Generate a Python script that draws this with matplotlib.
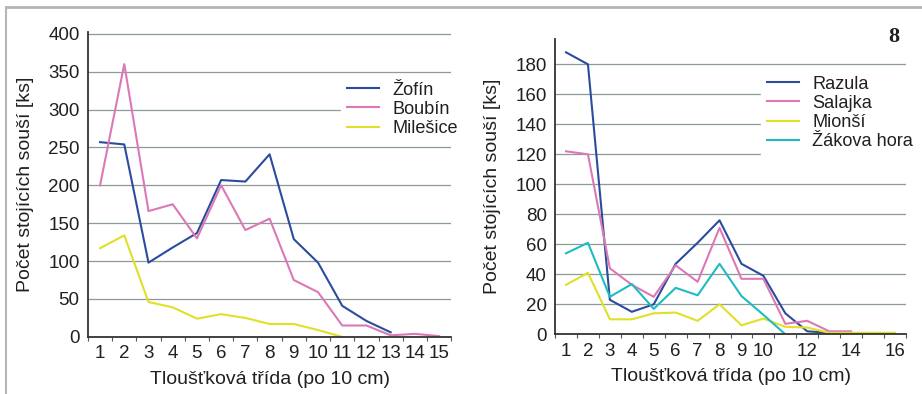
import matplotlib
matplotlib.use("Agg")
import matplotlib.pyplot as plt
from matplotlib.lines import Line2D

plt.rcParams['font.family'] = ['Liberation Sans', 'DejaVu Sans']

# left panel: classes 1-15
left_x = [1, 2, 3, 4, 5, 6, 7, 8, 9, 10, 11, 12, 13, 14, 15]
zofin = [257, 254, 98, 118, 137, 207, 205, 241, 129, 98, 41, 21, 6]
boubin = [200, 360, 166, 175, 130, 200, 141, 156, 75, 59, 15, 15, 2, 4, 1]
milesice = [117, 134, 46, 39, 24, 30, 25, 17, 17, 9, 0]

# right panel: classes 1-16
right_x = [1, 2, 3, 4, 5, 6, 7, 8, 9, 10, 11, 12, 13, 14, 15, 16]
right_ticks = [1, 2, 3, 4, 5, 6, 7, 8, 9, 10, 12, 14, 16]
razula = [188, 180, 23, 15, 20, 47, 61, 76, 47, 39, 14, 2, 1]
salajka = [122, 120, 44, 33, 25, 46, 35, 71, 37, 37, 7, 9, 2, 2]
mionsi = [33, 41, 10, 10, 14, 14.5, 9, 20, 6, 10.5, 5, 4.5, 1, 1, 1, 1]
zakova = [54, 61, 25, 33.5, 17, 31, 26, 47, 25.5, 13, 0]

c_blue = '#2b4c9e'
c_pink = '#dc78b6'
c_yellow = '#e0e02a'
c_cyan = '#1ebcc0'
c_grid = '#8d9a9a'
c_text = '#231f20'

fig = plt.figure(figsize=(9.22, 3.94), dpi=100)

def style(ax, n, ymax, yticks, xticks):
    ax.set_xlim(0.5, n + 0.5)
    ax.set_ylim(0, ymax)
    ax.set_yticks(yticks)
    ax.set_xticks(xticks)
    ax.set_xticks([k + 0.5 for k in range(n + 1)], minor=True)
    ax.tick_params(axis='x', which='major', length=0, pad=6, labelsize=13.5, colors=c_text)
    ax.tick_params(axis='x', which='minor', length=3, width=0.8, color='#555555', direction='out')
    ax.tick_params(axis='y', length=0, pad=6, labelsize=13.5, colors=c_text)
    for s in ['top', 'right']:
        ax.spines[s].set_visible(False)
    for s in ['left', 'bottom']:
        ax.spines[s].set_color('#333333')
        ax.spines[s].set_linewidth(1.3)
    for v in yticks[1:]:
        ax.axhline(v, color=c_grid, lw=0.9, zorder=0)
    ax.set_xlabel('Tloušťková třída (po 10 cm)', fontsize=14, color=c_text, labelpad=6)
    ax.set_ylabel('Počet stojících souší [ks]', fontsize=14, color=c_text, labelpad=10)

def legend(ax, x, y):
    leg = ax.legend(loc='upper left', bbox_to_anchor=(x / 922, 1 - y / 394),
                    bbox_transform=fig.transFigure, frameon=True, fancybox=False,
                    edgecolor='white', facecolor='white', framealpha=1, fontsize=13.1,
                    handlelength=1.8, handletextpad=0.7, labelspacing=0.12, borderpad=0.3)
    for t in leg.get_texts():
        t.set_color(c_text)

# left chart
ax1 = fig.add_axes([0.0954, 0.145, 0.394, 0.773])
style(ax1, 15, 402, list(range(0, 401, 50)), left_x)
ax1.plot(left_x[:len(zofin)], zofin, color=c_blue, lw=1.5, label='Žofín')
ax1.plot(left_x[:len(boubin)], boubin, color=c_pink, lw=1.5, label='Boubín')
ax1.plot(left_x[:len(milesice)], milesice, color=c_yellow, lw=1.5, label='Milešice')
legend(ax1, 332, 67)

# right chart
ax2 = fig.add_axes([0.602, 0.1515, 0.3806, 0.75])
style(ax2, 16, 197, list(range(0, 181, 20)), right_ticks)
ax2.plot(right_x[:len(razula)], razula, color=c_blue, lw=1.5, label='Razula')
ax2.plot(right_x[:len(salajka)], salajka, color=c_pink, lw=1.5, label='Salajka')
ax2.plot(right_x[:len(mionsi)], mionsi, color=c_yellow, lw=1.5, label='Mionší')
ax2.plot(right_x[:len(zakova)], zakova, color=c_cyan, lw=1.5, label='Žákova hora')
legend(ax2, 752, 61)

fig.text(0.975, 0.905, '8', fontsize=16, fontweight='bold', family='Liberation Serif',
         ha='right', va='center', color=c_text)

# page frame
fig.add_artist(Line2D([6 / 922, 1], [1 - 7 / 394, 1 - 7 / 394], color='#b5b5b5', lw=2))
fig.add_artist(Line2D([6 / 922, 6 / 922], [0, 1 - 7 / 394], color='#b5b5b5', lw=1.5))

fig.savefig('out.png', dpi=100)
